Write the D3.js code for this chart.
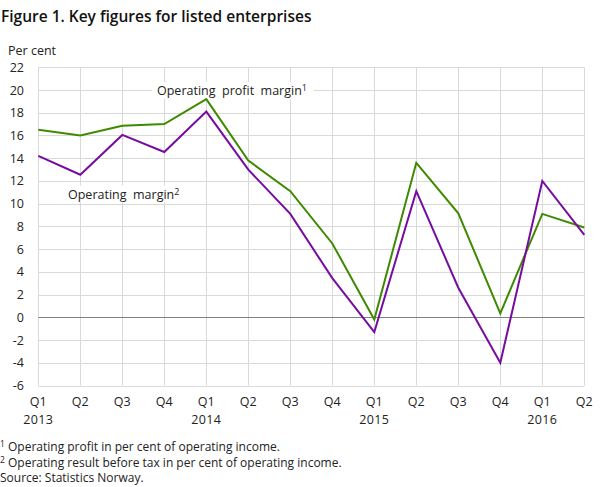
<!DOCTYPE html>
<html>
<head>
<meta charset="utf-8">
<script src="https://cdn.jsdelivr.net/npm/d3@7"></script>
<style>
	body { margin: 0; background: #fff; }
	svg { font-family: "Open Sans", sans-serif; }
	.grid line { stroke: #d9d9d9; stroke-width: 1; }
	.zero { stroke: #808080; stroke-width: 1; }
	.note { fill: #222; font-size: 12px; }
</style>
</head>
<body>
<svg id="chart"></svg>
<script>
let quarters = ["Q1", "Q2", "Q3", "Q4", "Q1", "Q2", "Q3", "Q4", "Q1", "Q2", "Q3", "Q4", "Q1", "Q2"];
let years = {0: "2013", 4: "2014", 8: "2015", 12: "2016"};
let profitMargin = [16.5, 16.0, 16.85, 17.0, 19.2, 13.8, 11.1, 6.5, -0.2, 13.6, 9.15, 0.35, 9.1, 7.9];
let operatingMargin = [14.2, 12.55, 16.05, 14.55, 18.1, 13.0, 9.1, 3.45, -1.3, 11.1, 2.6, -4.0, 12.0, 7.25];
let yTicks = [22, 20, 18, 16, 14, 12, 10, 8, 6, 4, 2, 0, -2, -4, -6];
let footnotes = ["Operating profit in per cent of operating income.", "Operating result before tax in per cent of operating income."];

function init() {
	let width = 608, height = 487;
	let svg = d3.select("svg#chart")
		.attr("width", width)
		.attr("height", height);

	let x = d3.scaleLinear().domain([0, quarters.length - 1]).range([38.3, 584.3]);
	let y = d3.scaleLinear().domain([-6, 22]).range([385.5, 67.3]);

	svg.append("text")
		.attr("x", 1).attr("y", 22)
		.style("font-size", "15.5px")
		.style("font-weight", 600)
		.style("fill", "#111")
		.text("Figure 1. Key figures for listed enterprises");

	svg.append("text")
		.attr("class", "note")
		.attr("x", 8).attr("y", 55)
		.style("font-size", "12.5px")
		.text("Per cent");

	// grid
	let grid = svg.append("g").attr("class", "grid");
	grid.selectAll("line.h")
		.data(yTicks.filter(d => d != 0))
		.enter().append("line")
		.attr("x1", x(0)).attr("x2", x(quarters.length - 1))
		.attr("y1", d => Math.round(y(d)) + 0.5).attr("y2", d => Math.round(y(d)) + 0.5);
	grid.selectAll("line.v")
		.data(quarters.map((q, i) => i))
		.enter().append("line")
		.attr("x1", d => Math.round(x(d)) + 0.5).attr("x2", d => Math.round(x(d)) + 0.5)
		.attr("y1", y(22)).attr("y2", y(-6));

	svg.append("line")
		.attr("class", "zero")
		.attr("x1", x(0)).attr("x2", x(quarters.length - 1))
		.attr("y1", Math.round(y(0)) + 0.5).attr("y2", Math.round(y(0)) + 0.5);

	// y axis labels
	svg.selectAll("text.ylab")
		.data(yTicks)
		.enter().append("text")
		.attr("class", "note")
		.attr("x", 24).attr("y", d => y(d) + 4.5)
		.attr("text-anchor", "end")
		.style("font-size", "12.5px")
		.text(d => d);

	// x axis labels
	svg.selectAll("text.qlab")
		.data(quarters)
		.enter().append("text")
		.attr("class", "note")
		.attr("x", (d, i) => x(i)).attr("y", 405.5)
		.attr("text-anchor", "middle")
		.style("font-size", "12.5px")
		.text(d => d);
	svg.selectAll("text.yr")
		.data(Object.keys(years))
		.enter().append("text")
		.attr("class", "note")
		.attr("x", d => x(+d)).attr("y", 423.5)
		.attr("text-anchor", "middle")
		.style("font-size", "12.5px")
		.style("letter-spacing", "0.4px")
		.text(d => years[d]);

	let line = d3.line().x((d, i) => x(i)).y(d => y(d));

	// labels with white boxes
	let labels = [
		{text: "Operating  profit  margin", sup: "1", x: 157, y: 95, bx: 152, bw: 162},
		{text: "Operating  margin", sup: "2", x: 68, y: 198.5, bx: 63, bw: 125}
	];
	labels.forEach(function(l) {
		svg.append("rect")
			.attr("x", l.bx).attr("y", l.y - 13).attr("width", l.bw).attr("height", 17)
			.attr("fill", "#fff");
		let t = svg.append("text")
			.attr("class", "note")
			.attr("x", l.x).attr("y", l.y)
			.style("font-size", "12.5px")
			.style("white-space", "pre");
		t.append("tspan").text(l.text);
		t.append("tspan").attr("dy", -4).style("font-size", "9px").text(l.sup);
	});

	svg.append("path")
		.datum(profitMargin)
		.attr("d", line)
		.attr("fill", "none")
		.attr("stroke", "#3f8a00")
		.attr("stroke-width", 2);

	svg.append("path")
		.datum(operatingMargin)
		.attr("d", line)
		.attr("fill", "none")
		.attr("stroke", "#760d9e")
		.attr("stroke-width", 2);

	// footnotes
	footnotes.forEach(function(f, i) {
		let t = svg.append("text")
			.attr("class", "note")
			.attr("x", 0).attr("y", 451 + i * 15.5);
		t.append("tspan").attr("dy", -4).style("font-size", "8.5px").text(i + 1);
		t.append("tspan").attr("dy", 4).text(" " + f);
	});
	svg.append("text")
		.attr("class", "note")
		.attr("x", 0).attr("y", 482)
		.text("Source: Statistics Norway.");
}

init();
</script>
</body>
</html>
